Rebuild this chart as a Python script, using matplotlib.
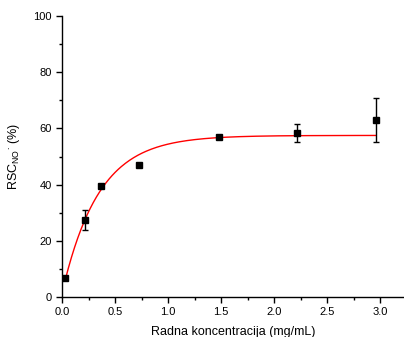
import numpy as np
import matplotlib
matplotlib.use("Agg")
import matplotlib.pyplot as plt
from matplotlib.ticker import MultipleLocator

plt.rcParams['font.family'] = ['Liberation Sans', 'DejaVu Sans']
plt.rcParams['mathtext.fontset'] = 'custom'
plt.rcParams['mathtext.rm'] = 'Liberation Sans'
plt.rcParams['mathtext.it'] = 'Liberation Sans'

conc = [0.03, 0.22, 0.37, 0.73, 1.48, 2.22, 2.96]
rsc = [6.8, 27.4, 39.5, 47.0, 57.0, 58.4, 63.0]
err = [0.0, 3.6, 0.0, 0.0, 0.0, 3.2, 7.8]

# exponential fit parameters y = plateau - span*exp(-k*(x - x0))
plateau = 57.5
span = 51.5
k = 2.9
x0 = 0.03

fig = plt.figure(figsize=(4.04, 3.37), dpi=100)
ax = fig.add_axes([62/404, 40/337, 342/404, 281/337])

xf = np.linspace(x0, 2.96, 300)
yf = plateau - span * np.exp(-k * (xf - x0))
ax.plot(xf, yf, color='red', lw=1.0, zorder=2)

ax.errorbar(conc, rsc, yerr=err, fmt='s', color='black', ms=5,
            ecolor='black', elinewidth=1.0, capsize=2.5, capthick=1.0, zorder=3)

ax.set_xlim(0, 3.225)
ax.set_ylim(0, 100)
ax.xaxis.set_major_locator(MultipleLocator(0.5))
ax.xaxis.set_minor_locator(MultipleLocator(0.25))
ax.yaxis.set_major_locator(MultipleLocator(20))
ax.yaxis.set_minor_locator(MultipleLocator(10))
ax.xaxis.set_major_formatter(matplotlib.ticker.FormatStrFormatter('%.1f'))
for s in ['top', 'right']:
    ax.spines[s].set_visible(False)
for s in ['left', 'bottom']:
    ax.spines[s].set_linewidth(1.0)
ax.tick_params(which='major', direction='out', length=4, width=1, labelsize=8, colors='black')
ax.tick_params(which='minor', direction='out', length=2, width=1)

ax.set_xlabel('Radna koncentracija (mg/mL)', fontsize=9, labelpad=6)
ax.set_ylabel(r'RSC$_{\mathrm{NO}}$$^{\bullet}$ (%)', fontsize=9, labelpad=8)

fig.savefig('out.png', dpi=100)
